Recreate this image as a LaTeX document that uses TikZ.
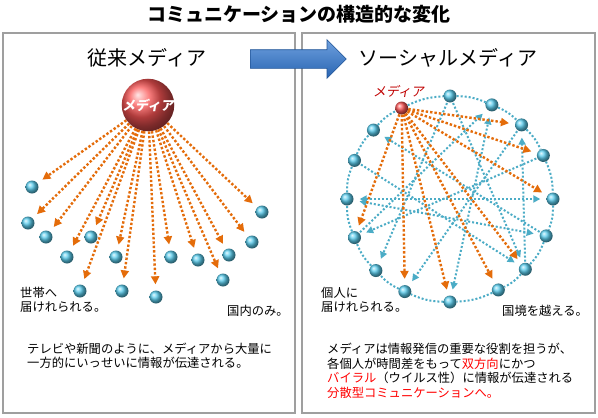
\documentclass[tikz,border=0pt]{standalone}
\usepackage{fontspec}
\setmainfont{Noto Sans CJK JP}
\newfontfamily\slantjp[FakeSlant=0.18]{Noto Sans CJK JP}
\usepackage{xcolor}
\usetikzlibrary{positioning, arrows.meta, shapes.arrows, shadows}

\definecolor{ballblue}{RGB}{90,205,238}
\definecolor{mediared}{RGB}{250,85,85}
\definecolor{pushorange}{RGB}{228,108,10}
\definecolor{linkblue}{RGB}{75,172,198}
\definecolor{labelred}{RGB}{192,0,0}
\definecolor{shiftlight}{RGB}{110,160,222}
\definecolor{shiftdark}{RGB}{40,100,178}

\begin{document}
\begin{tikzpicture}[
        x=1pt, y=1pt,
        every node/.style={font=\fontsize{12.3}{14.5}\selectfont},
        panel/.style={draw=gray!75, line width=1.2pt, rectangle, fill=white, minimum height=380pt,
            drop shadow={opacity=0.2, shadow xshift=1pt, shadow yshift=-1pt}},
        heading/.style={font=\fontsize{20}{24}\selectfont},
        ball/.style={circle, inner sep=0pt, minimum size=13pt, shading=ball, ball color=ballblue},
        push/.style={draw=pushorange, line width=2.4pt, dash pattern=on 2.4pt off 2pt,
            -{Triangle[length=8pt, width=8pt]}, shorten >=6pt},
        link/.style={draw=linkblue, line width=2pt, dash pattern=on 2pt off 2pt,
            -{Triangle[length=7pt, width=7pt]}, shorten >=6pt, shorten <=1pt},
        both/.style={link, {Triangle[length=7pt, width=7pt]}-{Triangle[length=7pt, width=7pt]}, shorten <=6pt},
        ring/.style={draw=linkblue, line width=2pt, dash pattern=on 2pt off 2pt},
        note/.style={align=left, inner sep=0pt, anchor=west}
    ]
    \useasboundingbox (0,0) rectangle (598,-418);

    \node[font=\fontsize{19}{23}\selectfont\bfseries] (title) at (299,-14) {コミュニケーションの構造的な変化};

    \node[panel, minimum width=292pt] (oldpanel) at (149,-223) {};
    \node[panel, minimum width=293pt] (newpanel) at (448.5,-223) {};

    \node[heading] (oldhead) at (147,-58) {従来メディア};
    \node[heading] (newhead) at (448,-58) {ソーシャルメディア};

    \node[single arrow, anchor=tail, minimum height=96pt, inner xsep=0pt, inner ysep=9pt,
        single arrow head extend=10pt, top color=shiftlight, bottom color=shiftdark,
        draw=shiftdark!85!black, line width=0.6pt] (shift) at (250,-59) {};

    % traditional media
    \node[circle, inner sep=0pt, minimum size=52pt, shading=ball, ball color=mediared, text=white,
        font=\slantjp\fontsize{13}{15}\selectfont\bfseries] (media) at (148,-105) {メディア};

    \foreach \n/\x/\y in {1/32/187, 2/28/223, 3/46/237, 4/67/257, 5/91/237, 6/116/257, 7/171/257,
            8/198/260, 9/229/255, 10/252/242, 11/262/212, 12/223/280, 13/80/291, 14/122/291, 15/156/297}
        \node[ball] (home\n) at (\x,-\y) {};

    \foreach \n in {1,...,15}
        \draw[push] (media) -- (home\n);

    \node[note] (homenote) at (20,-300) {世帯へ\\届けれられる。};
    \node[note] (domestic) at (227,-311) {国内のみ。};
    \node[note] (oldtext) at (27,-356) {テレビや新聞のように、メディアから大量に\\一方的にいっせいに情報が伝達される。};

    % social media
    \coordinate (hub) at (450,-199);
    \node[ball, ball color=mediared] (source) at ([shift={(118:103)}]hub) {};
    \foreach \n/\a in {1/90, 2/66, 3/46, 4/25, 5/0, 6/-21, 7/-43, 8/-62, 9/-90, 10/-116,
            11/-136, 12/-158, 13/180, 14/158, 15/138}
        \node[ball] (peer\n) at ([shift={(\a:103)}]hub) {};

    \node[font=\slantjp\fontsize{13}{15}\selectfont, text=labelred, above=0pt of source, xshift=-3pt] (sourcelabel) {メディア};

    \foreach \a/\b in {source/peer1, peer1/peer2, peer2/peer3, peer3/peer4, peer4/peer5, peer5/peer6,
            peer6/peer7, peer7/peer8, peer8/peer9, peer9/peer10, peer10/peer11, peer11/peer12,
            peer12/peer13, peer13/peer14, peer14/peer15, peer15/source}
        \draw[ring] (\a) to[bend left=11] (\b);

    \foreach \a/\b in {peer6/peer15, peer4/peer12, peer1/peer11, peer1/peer7, peer14/peer7,
            peer7/peer3, peer12/peer2, peer3/peer10}
        \draw[link] (\a) -- (\b);
    \foreach \a/\b in {peer13/peer5, peer13/peer6, peer9/peer2}
        \draw[both] (\a) -- (\b);

    \foreach \n in {3,4,5,7,8,9,10,12}
        \draw[push] (source) -- (peer\n);

    \node[note] (personnote) at (321,-300) {個人に\\届けれられる。};
    \node[note] (border) at (502,-311) {国境を越える。};
    \node[note] (newtext) at (327,-371) {メディアは情報発信の重要な役割を担うが、\\
        各個人が時間差をもって\textcolor{red}{双方向}にかつ\\
        \textcolor{red}{バイラル}（ウイルス性）に情報が伝達される\\
        \textcolor{red}{分散型コミュニケーションへ。}};
\end{tikzpicture}
\end{document}
